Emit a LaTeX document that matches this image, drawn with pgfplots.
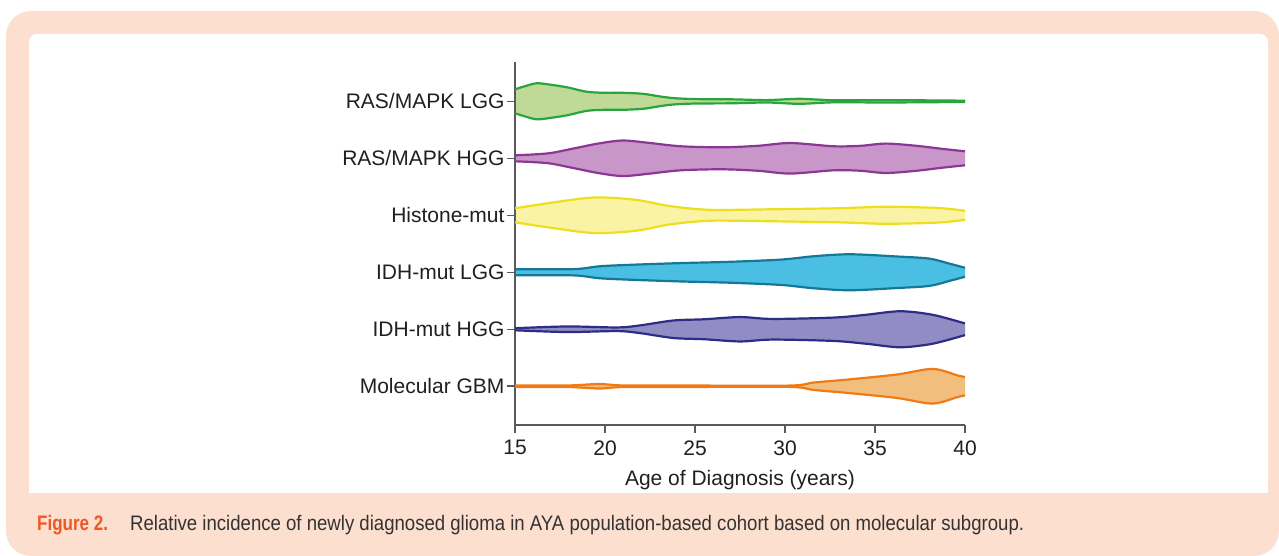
\documentclass[border=0pt]{standalone}
\usepackage{pgfplots}
\pgfplotsset{compat=1.18}
\usepackage{pgfplotstable}
\usepgfplotslibrary{fillbetween}
\usepackage{fontspec}
\setmainfont{Liberation Sans}
\newfontfamily\capfont[FakeStretch=0.885]{Liberation Sans}
\newfontfamily\capfontB[FakeStretch=0.81]{Liberation Sans}

\pgfdeclarelayer{bgfill}
\pgfplotsset{
  layers/mylayers/.define layer set={
    bgfill,axis background,axis grid,axis ticks,axis lines,axis tick labels,pre main,main,axis descriptions,axis foreground
  }{},
}

\definecolor{peach}{RGB}{252,223,206}
\definecolor{figorange}{RGB}{238,88,38}
\definecolor{captext}{RGB}{51,51,51}
\definecolor{labtext}{RGB}{35,31,32}
\definecolor{axgray}{RGB}{90,90,90}
\definecolor{lgA}{RGB}{40,165,60}   \definecolor{fgA}{RGB}{190,218,150}
\definecolor{lgB}{RGB}{140,55,150}  \definecolor{fgB}{RGB}{200,150,200}
\definecolor{lgC}{RGB}{236,224,30}  \definecolor{fgC}{RGB}{250,243,165}
\definecolor{lgD}{RGB}{20,120,150}  \definecolor{fgD}{RGB}{75,190,228}
\definecolor{lgE}{RGB}{45,45,135}   \definecolor{fgE}{RGB}{145,140,196}
\definecolor{lgF}{RGB}{240,122,20}  \definecolor{fgF}{RGB}{242,190,126}

% half-widths of each violin (in category units) by age
\pgfplotstableread{
age hw
15 0.21
15.5 0.26
16.2 0.316
17.0 0.29
17.9 0.245
19.0 0.167
20 0.149
21 0.149
22.1 0.132
23 0.088
23.8 0.056
25 0.039
27 0.035
29 0.021
30.8 0.044
32.7 0.018
35.4 0.021
37.3 0.018
40 0.011
}\tblA
\pgfplotstableread{
age hw
15 0.053
16 0.067
17 0.093
18.3 0.175
19.7 0.263
21 0.312
22.4 0.272
24.2 0.211
26.5 0.193
28.5 0.219
30.3 0.268
32.7 0.211
34.2 0.219
35.6 0.258
37.3 0.219
38.8 0.163
40 0.123
}\tblB
\pgfplotstableread{
age hw
15 0.123
17 0.219
19.4 0.312
21.7 0.272
23.6 0.161
25.8 0.096
29.2 0.105
32.9 0.123
35.6 0.149
38.5 0.128
40 0.079
}\tblC
\pgfplotstableread{
age hw
15 0.053
17 0.053
18.5 0.058
19.7 0.105
21.5 0.132
24.2 0.161
27 0.184
29.8 0.223
31.6 0.281
33.6 0.316
36.2 0.277
38 0.240
39.2 0.146
40 0.079
}\tblD
\pgfplotstableread{
age hw
15 0.018
17.9 0.049
20.7 0.032
22 0.07
23.8 0.154
25.5 0.175
27.5 0.214
29.3 0.181
32.7 0.205
34.5 0.254
36.4 0.316
38.2 0.254
40 0.102
}\tblE
\pgfplotstableread{
age hw
15 0.012
18 0.014
19.7 0.04
21 0.014
25 0.012
30.3 0.012
31.6 0.065
33.5 0.118
36.2 0.205
38.2 0.304
39.6 0.189
40 0.161
}\tblF

\newcommand{\violin}[3]{%
  \addplot[lg#1, line width=2.2pt, smooth, name path=u#1]
    table[x=age, y expr=#2+\thisrow{hw}] {#3};
  \addplot[lg#1, line width=2.2pt, smooth, name path=l#1]
    table[x=age, y expr=#2-\thisrow{hw}] {#3};
  \addplot[fg#1, draw=none] fill between[of=u#1 and l#1];
}

\begin{document}
\begin{tikzpicture}[x=1pt,y=1pt]
\pgfplotsset{set layers=mylayers}
\begin{pgfonlayer}{bgfill}
\fill[white] (0,0) rectangle (1279,556);
\fill[peach,rounded corners=25pt] (6,0) rectangle (1279,545);
\fill[white,rounded corners=8pt] (29,63) rectangle (1268,522);
\fill[white] (29,63) rectangle (60,100);
\fill[white] (1230,63) rectangle (1268,100);
\end{pgfonlayer}

\begin{axis}[
  set layers=mylayers,
  at={(515pt,131pt)}, anchor=south west,
  scale only axis, width=450pt, height=363pt,
  xmin=15, xmax=40, ymin=0.32, ymax=6.69,
  axis x line*=bottom, axis y line*=left,
  axis line style={axgray, line width=1.5pt},
  xtick={15,20,25,30,35,40},
  ytick={1,2,3,4,5,6},
  yticklabels={Molecular GBM, IDH-mut HGG, IDH-mut LGG, Histone-mut, RAS/MAPK HGG, RAS/MAPK LGG},
  tick align=outside, major tick length=8pt,
  tick style={axgray, line width=1.5pt},
  minor tick num=0,
  /pgf/number format/assume math mode=true,
  ticklabel style={font=\fontsize{21}{24}\selectfont, text=labtext},
  xticklabel style={yshift=-4pt},
  yticklabel style={xshift=1pt},
  xlabel={Age of Diagnosis (years)},
  xlabel style={font=\fontsize{21}{24}\selectfont, text=labtext, yshift=-8pt},
  clip=true,
]
\violin{A}{6}{\tblA}
\violin{B}{5}{\tblB}
\violin{C}{4}{\tblC}
\violin{D}{3}{\tblD}
\violin{E}{2}{\tblE}
\violin{F}{1}{\tblF}
\end{axis}

\node[anchor=base west, inner sep=0pt, text=figorange, font=\capfontB\bfseries\fontsize{21}{24}\selectfont] at (37,25) {Figure 2.};
\node[anchor=base west, inner sep=0pt, text=captext, font=\capfont\fontsize{21}{24}\selectfont] at (130,25) {Relative incidence of newly diagnosed glioma in AYA population-based cohort based on molecular subgroup.};
\end{tikzpicture}
\end{document}
